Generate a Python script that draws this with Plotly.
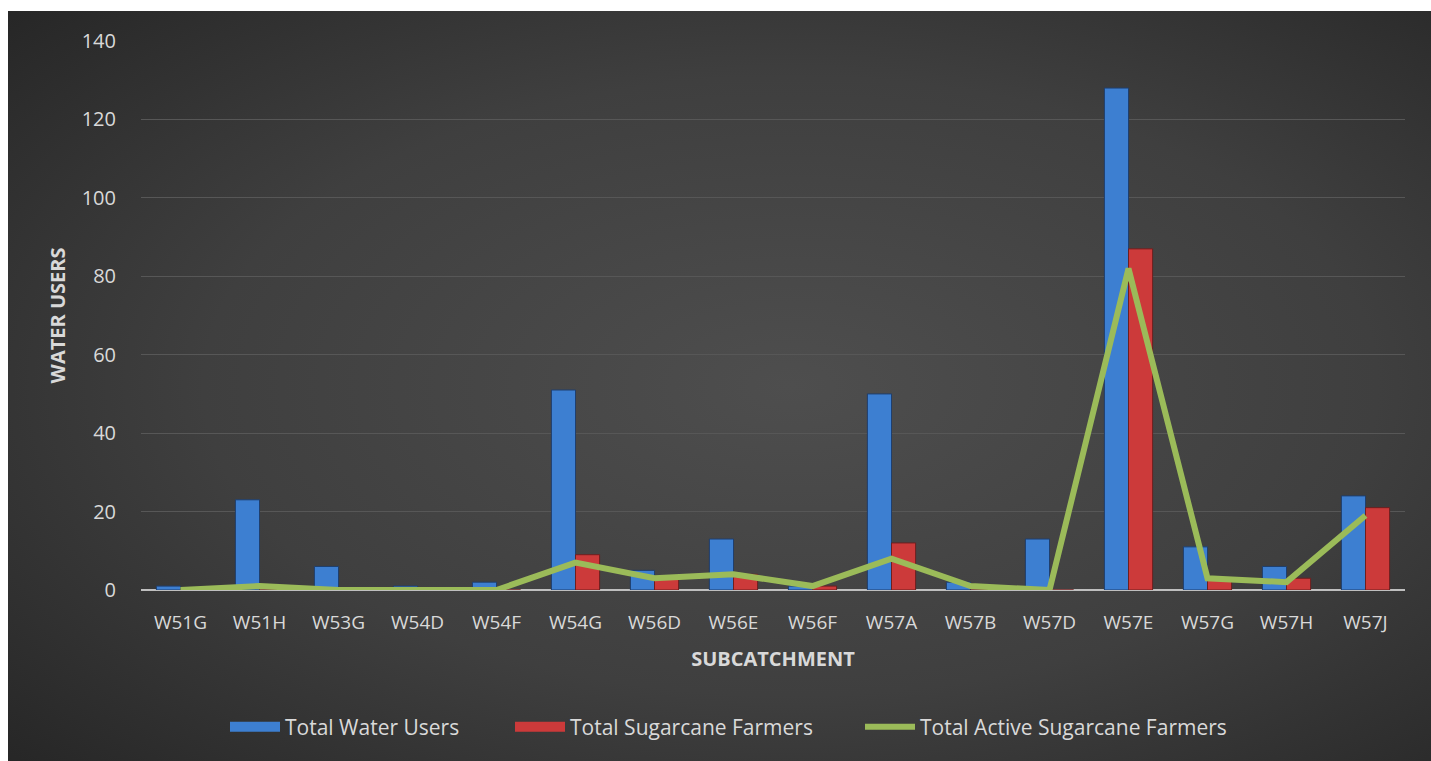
import plotly.graph_objects as go
import urllib.parse

categories = ["W51G", "W51H", "W53G", "W54D", "W54F", "W54G", "W56D", "W56E",
              "W56F", "W57A", "W57B", "W57D", "W57E", "W57G", "W57H", "W57J"]
total_water_users = [1, 23, 6, 1, 2, 51, 5, 13, 1, 50, 2, 13, 128, 11, 6, 24]
total_sugarcane_farmers = [0, 0, 0, 0, 0, 9, 3, 4, 1, 12, 0, 0, 87, 3, 3, 21]
total_active_sugarcane = [0, 1, 0, 0, 0, 7, 3, 4, 1, 8, 1, 0, 82, 3, 2, 19]
y_ticks = [0, 20, 40, 60, 80, 100, 120, 140]
series_names = ["Total Water Users", "Total Sugarcane Farmers", "Total Active Sugarcane Farmers"]

W, H = 1431, 761
L, R, T, B = 141, 26, 41, 171
pw, ph = W - L - R, H - T - B

svg = ('<svg xmlns="http://www.w3.org/2000/svg" width="1423" height="750" preserveAspectRatio="none">'
       '<defs><radialGradient id="g" cx="0.55" cy="0.5" r="0.75">'
       '<stop offset="0" stop-color="#4e4e4e"/><stop offset="0.55" stop-color="#3f3f3f"/>'
       '<stop offset="1" stop-color="#262626"/></radialGradient></defs>'
       '<rect width="1423" height="750" fill="url(#g)"/></svg>')
src = "data:image/svg+xml;charset=utf-8," + urllib.parse.quote(svg)

BLUE, RED, GREEN = "#3d7fd1", "#cc3a3a", "#9bbb59"
TXT = "#d9d9d9"
font = "Open Sans, Lato, sans-serif"

fig = go.Figure()
fig.add_trace(go.Bar(x=categories, y=total_water_users, name=series_names[0], showlegend=False,
                     marker=dict(color=BLUE, line=dict(color="#1f3f6e", width=1))))
fig.add_trace(go.Bar(x=categories, y=total_sugarcane_farmers, name=series_names[1], showlegend=False,
                     marker=dict(color=RED, line=dict(color="#6e1f1f", width=1))))
fig.add_trace(go.Scatter(x=categories, y=total_active_sugarcane, name=series_names[2],
                         mode="lines", line=dict(color=GREEN, width=6), legend="legend3"))
# legend swatches for the bar series
fig.add_trace(go.Scatter(x=[None], y=[None], name=series_names[0], mode="lines",
                         line=dict(color=BLUE, width=13), legend="legend"))
fig.add_trace(go.Scatter(x=[None], y=[None], name=series_names[1], mode="lines",
                         line=dict(color=RED, width=13), legend="legend2"))

leg_y = (H - B - 727) / ph
def leg(px):
    return dict(x=(px - L) / pw, xanchor="left", y=leg_y, yanchor="middle",
                font=dict(size=21, color=TXT, family=font), bgcolor="rgba(0,0,0,0)",
                itemwidth=50, orientation="h")

fig.update_layout(
    width=W, height=H,
    margin=dict(l=L, r=R, t=T, b=B),
    paper_bgcolor="white", plot_bgcolor="rgba(0,0,0,0)",
    barmode="group", bargap=0.39, bargroupgap=0,
    font=dict(family=font, color=TXT, size=19),
    images=[dict(source=src, xref="paper", yref="paper",
                 x=(8 - L) / pw, y=(H - B - 11) / ph,
                 sizex=(W - 8) / pw, sizey=(H - 11) / ph,
                 xanchor="left", yanchor="top", sizing="stretch", layer="below")],
    legend=leg(225), legend2=leg(510), legend3=leg(860),
    showlegend=True,
)
fig.update_xaxes(showgrid=False, tickfont=dict(size=19, color=TXT), ticks="", ticklabelstandoff=19,
                 title=dict(text="<b>SUBCATCHMENT</b>", font=dict(size=20, color=TXT), standoff=17),
                 range=[-0.5, 15.5])
fig.update_yaxes(range=[0, 140], tickvals=y_ticks, gridcolor="#575757", gridwidth=1,
                 zeroline=True, zerolinecolor="#bfbfbf", zerolinewidth=2,
                 tickfont=dict(size=20, color=TXT), ticks="", ticklabelstandoff=24,
                 title=dict(text="<b>WATER USERS</b>", font=dict(size=20, color=TXT), standoff=10))

fig.write_html("out.html")
